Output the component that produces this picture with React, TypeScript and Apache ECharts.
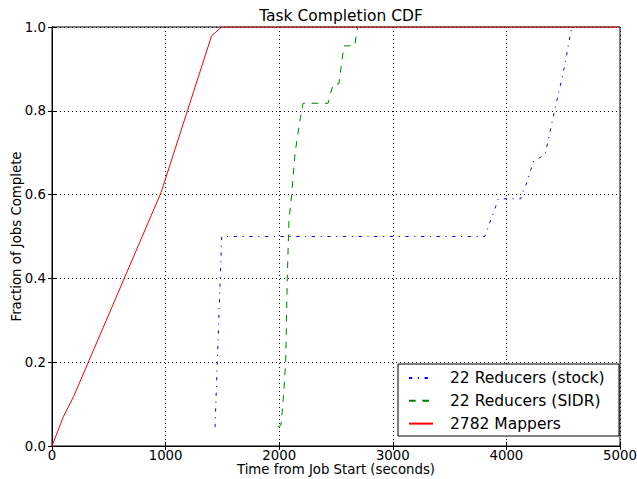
import React, { useEffect, useRef } from "react";
import * as echarts from "echarts";

const xTicks = [0, 1000, 2000, 3000, 4000, 5000];
const yTicks = [0, 0.2, 0.4, 0.6, 0.8, 1.0];

const stockX = [1435, 1494, 3810, 3930, 4125, 4150, 4175, 4240, 4340, 4440, 4500, 4575];
const stockY = [0.045, 0.5, 0.5, 0.59, 0.59, 0.61, 0.625, 0.68, 0.695, 0.82, 0.89, 1.0];

const sidrX = [1990, 2015, 2030, 2057, 2071, 2086, 2110, 2140, 2183, 2210, 2430, 2475, 2525, 2570, 2665, 2690];
const sidrY = [0.045, 0.05, 0.09, 0.2, 0.4, 0.54, 0.6, 0.7, 0.778, 0.818, 0.818, 0.864, 0.864, 0.955, 0.955, 1.0];

const mapX = [0, 100, 190, 960, 1405, 1494, 5000];
const mapY = [0, 0.07, 0.118, 0.605, 0.979, 1.0, 1.0];

const seriesNames = ["22 Reducers (stock)", "22 Reducers (SIDR)", "2782 Mappers"];

const FONT = "DejaVu Sans";

function zip(xs: number[], ys: number[]) {
  return xs.map((x, i) => [x, ys[i]]);
}

export default function App() {
  const ref = useRef<HTMLDivElement>(null);
  useEffect(() => {
    if (!ref.current) return;
    const chart = echarts.init(ref.current, null, { renderer: "svg" });
    const grid = { left: 52, right: 17, top: 27, bottom: 33 };
    const commonX = {
      type: "value",
      min: xTicks[0],
      max: xTicks[xTicks.length - 1],
      interval: 1000,
    };
    const commonY = {
      type: "value",
      min: yTicks[0],
      max: yTicks[yTicks.length - 1],
      interval: 0.2,
    };
    chart.setOption({
      animation: false,
      backgroundColor: "#ffffff",
      title: {
        text: "Task Completion CDF",
        left: 336,
        textAlign: "center",
        top: 3,
        textStyle: { fontFamily: FONT, fontSize: 15.5, fontWeight: "normal", color: "#000" },
      },
      grid: {
        ...grid,
        containLabel: false,
        outerBoundsMode: "none",
        show: true,
        borderColor: "#000",
        borderWidth: 1,
        backgroundColor: "transparent",
      },
      xAxis: [
        {
          ...commonX,
          position: "bottom",
          name: "Time from Job Start (seconds)",
          nameLocation: "middle",
          nameGap: 23,
          nameMoveOverlap: false,
          nameTextStyle: { fontFamily: FONT, fontSize: 13.3, color: "#000", verticalAlign: "middle", lineHeight: 14 },
          axisLine: { show: true, lineStyle: { color: "#000", width: 1 } },
          axisTick: { show: true, inside: true, length: 4, lineStyle: { color: "#000" } },
          axisLabel: {
            fontFamily: FONT,
            fontSize: 13.3,
            color: "#000",
            margin: 3,
            formatter: (v: number) => String(v),
          },
          splitLine: { show: true, lineStyle: { color: "#000", type: [1, 3], width: 1 } },
        },
        {
          ...commonX,
          position: "top",
          axisLine: { show: true, lineStyle: { color: "#000", width: 1 } },
          axisTick: { show: true, inside: true, length: 4, lineStyle: { color: "#000" } },
          axisLabel: { show: false },
          splitLine: { show: false },
        },
      ],
      yAxis: [
        {
          ...commonY,
          position: "left",
          name: "Fraction of Jobs Complete",
          nameLocation: "middle",
          nameGap: 36,
          nameMoveOverlap: false,
          nameTextStyle: { fontFamily: FONT, fontSize: 13.3, color: "#000", verticalAlign: "middle", lineHeight: 14 },
          axisLine: { show: true, lineStyle: { color: "#000", width: 1 } },
          axisTick: { show: true, inside: true, length: 4, lineStyle: { color: "#000" } },
          axisLabel: {
            fontFamily: FONT,
            fontSize: 13.3,
            color: "#000",
            margin: 6,
            formatter: (v: number) => v.toFixed(1),
          },
          splitLine: { show: true, lineStyle: { color: "#000", type: [1, 3], width: 1 } },
        },
        {
          ...commonY,
          position: "right",
          axisLine: { show: true, lineStyle: { color: "#000", width: 1 } },
          axisTick: { show: true, inside: true, length: 4, lineStyle: { color: "#000" } },
          axisLabel: { show: false },
          splitLine: { show: false },
        },
      ],
      legend: {
        orient: "vertical",
        left: 408,
        top: 370,
        padding: 0,
        itemWidth: 24,
        itemHeight: 16,
        itemGap: 6.8,
        z: 60,
        itemStyle: { opacity: 0 },
        textStyle: { fontFamily: FONT, fontSize: 15.5, color: "#000", lineHeight: 16, padding: [0, 0, 0, 12] },
        data: seriesNames,
      },
      graphic: [
        {
          type: "rect",
          z: 50,
          shape: { x: 398, y: 364, width: 221, height: 72 },
          style: { fill: "#fff", stroke: "#000", lineWidth: 1 },
        },
      ],
      series: [
        {
          name: seriesNames[0],
          type: "line",
          xAxisIndex: 0,
          yAxisIndex: 0,
          data: zip(stockX, stockY),
          showSymbol: false,
          symbol: "none",
          color: "#0000ff",
          lineStyle: { color: "#0000ff", width: 1, type: [3.3, 5.6, 1.1, 5.6] },
        },
        {
          name: seriesNames[1],
          type: "line",
          xAxisIndex: 0,
          yAxisIndex: 0,
          data: zip(sidrX, sidrY),
          showSymbol: false,
          symbol: "none",
          color: "#008000",
          lineStyle: { color: "#008000", width: 1, type: [6.7, 6.7] },
        },
        {
          name: seriesNames[2],
          type: "line",
          xAxisIndex: 0,
          yAxisIndex: 0,
          data: zip(mapX, mapY),
          showSymbol: false,
          symbol: "none",
          color: "#ff0000",
          lineStyle: { color: "#ff0000", width: 1, type: "solid" },
        },
      ],
    });
    return () => chart.dispose();
  }, []);
  return <div ref={ref} style={{ width: 637, height: 479, position: "absolute", left: 0, top: 0 }} />;
}
